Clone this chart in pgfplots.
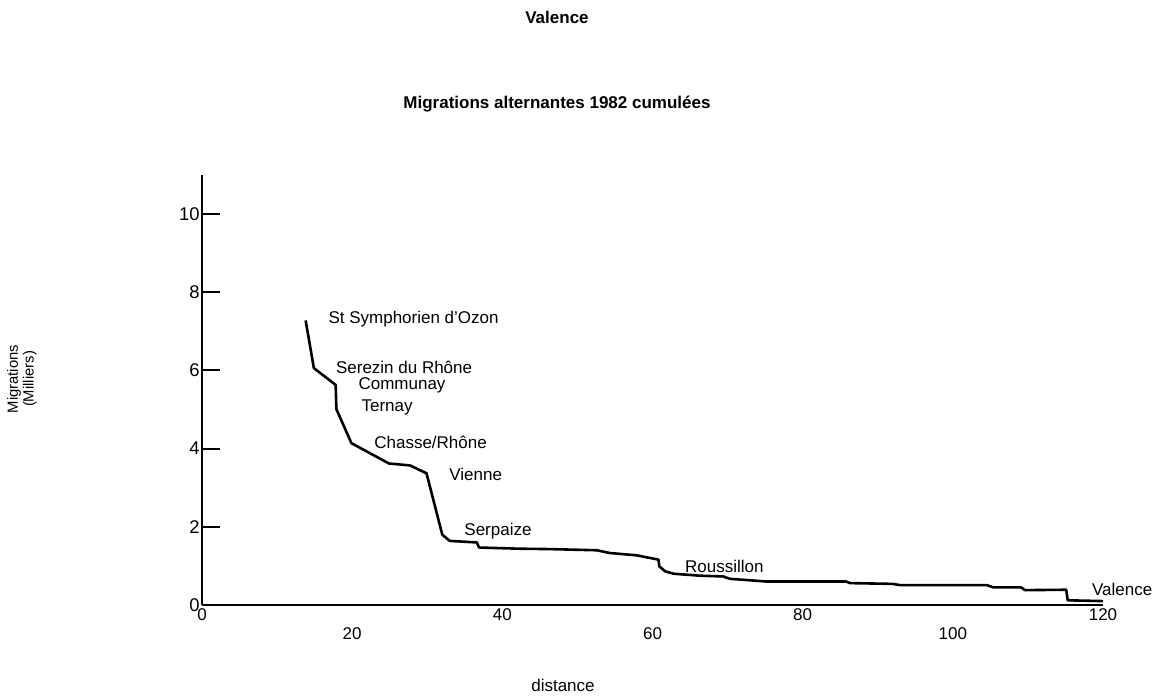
\documentclass[border=0pt]{standalone}
\usepackage{fontspec}
\setmainfont{Liberation Sans}
\usepackage{pgfplots}
\pgfplotsset{compat=1.18}
\newcommand\lbl{\fontsize{8.5}{10}\selectfont}

\begin{document}
\begin{tikzpicture}
\path[use as bounding box] (0,0) rectangle (579pt,348pt);
\begin{axis}[at={(101pt,45.5pt)},anchor=south west,scale only axis,
  width=450.5pt,height=215pt,
  xmin=0,xmax=120,ymin=0,ymax=11,
  axis lines=left,axis line style={-,line width=1.2pt},
  tick align=inside,major tick length=9pt,
  xtick={0,40,80,120},xtick style={draw=none},
  extra x ticks={20,60,100},
  extra x tick style={major tick length=0pt,xticklabel style={yshift=-9.5pt}},
  ytick={0,2,4,6,8,10},ytick style={line width=1pt,black},
  tick label style={font=\lbl},
  yticklabel style={inner xsep=1pt,font=\fontsize{9.2}{10}\selectfont},
  xticklabel style={inner ysep=1.5pt},
  /pgf/number format/assume math mode=true,
  clip=false]
  \addplot[black,line width=1.3pt,line join=round] coordinates {
    (13.8,7.28)(14.9,6.06)(17.8,5.63)(17.9,5.01)(19.9,4.14)(24.9,3.62)
    (27.7,3.57)(29.9,3.37)(32.0,1.80)(33.0,1.64)(36.6,1.60)(36.9,1.47)
    (42.3,1.44)(46.3,1.43)(52.6,1.40)(54.3,1.33)(57.9,1.27)(60.8,1.16)
    (60.9,0.99)(61.7,0.86)(62.8,0.80)(66.3,0.75)(69.4,0.73)(70.3,0.67)
    (75.2,0.60)(85.8,0.60)(86.3,0.56)(92.0,0.54)(92.9,0.51)(104.5,0.51)
    (105.4,0.45)(109.1,0.45)(109.6,0.38)(115.1,0.39)(115.3,0.12)(120,0.10)};
  % place names along the curve
  \node[anchor=west,inner sep=0pt,font=\lbl] at (axis cs:16.8,7.31) {St Symphorien d’Ozon};
  \node[anchor=west,inner sep=0pt,font=\lbl] at (axis cs:17.8,6.09) {Serezin du Rhône};
  \node[anchor=west,inner sep=0pt,font=\lbl] at (axis cs:20.8,5.63) {Communay};
  \node[anchor=west,inner sep=0pt,font=\lbl] at (axis cs:21.2,5.06) {Ternay};
  \node[anchor=west,inner sep=0pt,font=\lbl] at (axis cs:22.9,4.16) {Chasse/Rhône};
  \node[anchor=west,inner sep=0pt,font=\lbl] at (axis cs:32.9,3.34) {Vienne};
  \node[anchor=west,inner sep=0pt,font=\lbl] at (axis cs:34.9,1.88) {Serpaize};
  \node[anchor=west,inner sep=0pt,font=\lbl] at (axis cs:64.3,0.98) {Roussillon};
  \node[anchor=west,inner sep=0pt,font=\lbl] at (axis cs:118.5,0.39) {Valence};
\end{axis}
\node[font=\bfseries\lbl] at (278.5pt,339.5pt) {Valence};
\node[font=\bfseries\lbl] at (278.5pt,296pt) {Migrations alternantes 1982 cumulées};
\node[font=\lbl] at (281.5pt,5.5pt) {distance};
\node[rotate=90,align=center,font=\fontsize{7.4}{5.6}\selectfont] at (11pt,158.5pt) {Migrations\\(Milliers)};
\end{tikzpicture}
\end{document}
